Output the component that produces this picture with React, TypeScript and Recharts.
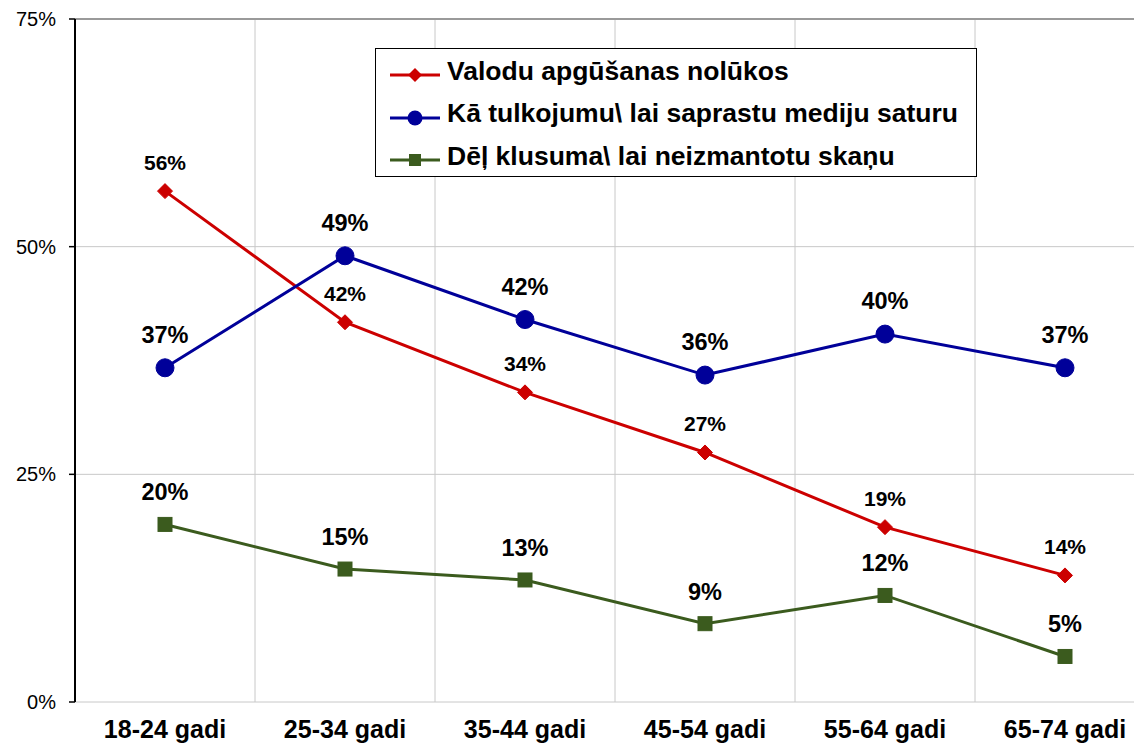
import React from 'react';
import { LineChart, Line, XAxis, YAxis, CartesianGrid, Legend, LabelList, ReferenceLine } from 'recharts';

const categories = ['18-24 gadi', '25-34 gadi', '35-44 gadi', '45-54 gadi', '55-64 gadi', '65-74 gadi'];
const valodu = [56.1, 41.7, 34.0, 27.4, 19.2, 13.9];
const tulkojumu = [36.7, 49.0, 42.0, 35.9, 40.4, 36.7];
const klusuma = [19.5, 14.6, 13.4, 8.6, 11.7, 5.0];
const yTicks = [0, 25, 50, 75];
const seriesNames = ['Valodu apgūšanas nolūkos', 'Kā tulkojumu\\ lai saprastu mediju saturu', 'Dēļ klusuma\\ lai neizmantotu skaņu'];

const RED = '#CC0000';
const BLUE = '#000099';
const GREEN = '#3B5B1E';
const FONT = '"Liberation Sans", Arial, sans-serif';

const data = categories.map((c, i) => ({
  x: i + 0.5,
  cat: c,
  valodu: valodu[i],
  tulkojumu: tulkojumu[i],
  klusuma: klusuma[i],
}));

const Diamond = (props: any) => {
  const { cx, cy } = props;
  if (cx == null || cy == null) return null;
  const r = 7.5;
  return <polygon points={`${cx},${cy - r} ${cx + r},${cy} ${cx},${cy + r} ${cx - r},${cy}`} fill={RED} stroke={RED} />;
};
const Circle = (props: any) => {
  const { cx, cy } = props;
  if (cx == null || cy == null) return null;
  return <circle cx={cx} cy={cy} r={9} fill={BLUE} stroke={BLUE} />;
};
const Square = (props: any) => {
  const { cx, cy } = props;
  if (cx == null || cy == null) return null;
  return <rect x={cx - 7} y={cy - 7} width={14} height={14} fill={GREEN} stroke={GREEN} />;
};

const makeLabel = (offset: number, size: number) => (props: any) => {
  const { x, y, value } = props;
  return (
    <text x={x} y={y - offset} textAnchor="middle" dominantBaseline="central" fontFamily={FONT} fontWeight="bold" fontSize={size} fill="#000">
      {Math.round(value)}%
    </text>
  );
};

const legendIcons = [
  (
    <svg width={50} height={20}>
      <line x1={0} y1={10} x2={50} y2={10} stroke={RED} strokeWidth={3} />
      <polygon points="25,3 32,10 25,17 18,10" fill={RED} />
    </svg>
  ),
  (
    <svg width={50} height={20}>
      <line x1={0} y1={10} x2={50} y2={10} stroke={BLUE} strokeWidth={3} />
      <circle cx={25} cy={10} r={7.5} fill={BLUE} />
    </svg>
  ),
  (
    <svg width={50} height={20}>
      <line x1={0} y1={10} x2={50} y2={10} stroke={GREEN} strokeWidth={3} />
      <rect x={19} y={4} width={12} height={12} fill={GREEN} />
    </svg>
  ),
];

const LegendBox = () => (
  <div
    style={{
      width: 600,
      height: 126,
      border: '1px solid #000',
      background: '#fff',
      boxSizing: 'content-box',
      fontFamily: FONT,
      fontWeight: 'bold',
      fontSize: 26.5,
      color: '#000',
      paddingTop: 1,
    }}
  >
    {seriesNames.map((n, i) => (
      <div key={n} style={{ height: 42.5, display: 'flex', alignItems: 'center', paddingLeft: 14 }}>
        <span style={{ display: 'inline-block', width: 50, height: 20, marginRight: 7 }}>{legendIcons[i]}</span>
        <span style={{ whiteSpace: 'nowrap' }}>{n}</span>
      </div>
    ))}
  </div>
);

export default function App() {
  return (
    <div style={{ position: 'absolute', left: 0, top: 0, width: 1134, height: 744, overflow: 'hidden', background: '#fff' }}>
      <LineChart width={1160} height={744} data={data} margin={{ top: 19, right: 5, left: 0, bottom: 0 }}>
        <CartesianGrid stroke="#C8C8C8" strokeWidth={1} />
        <ReferenceLine y={75} stroke="#9A9A9A" strokeWidth={2} />
        <XAxis
          dataKey="x"
          type="number"
          domain={[0, 6]}
          ticks={[0, 1, 2, 3, 4, 5, 6]}
          tickFormatter={() => ''}
          height={0}
          axisLine={{ stroke: '#000', strokeWidth: 2 }}
          tickLine={{ stroke: '#000', strokeWidth: 1.5 }}
          tickSize={6}
          allowDataOverflow
        />
        <XAxis
          xAxisId="lab"
          dataKey="x"
          type="number"
          domain={[0, 6]}
          ticks={[0.5, 1.5, 2.5, 3.5, 4.5, 5.5]}
          tickFormatter={(v: number) => categories[Math.floor(v)] ?? ''}
          height={42}
          axisLine={false}
          tickLine={false}
          tickSize={0}
          tickMargin={18}
          interval={0}
          tick={{ fontFamily: FONT, fontWeight: 'bold', fontSize: 25, fill: '#000' }}
          allowDataOverflow
        />
        <YAxis
          type="number"
          domain={[0, 75]}
          ticks={yTicks}
          width={75}
          tickFormatter={(v: number) => `${v}%`}
          axisLine={{ stroke: '#000', strokeWidth: 2 }}
          tickLine={{ stroke: '#000', strokeWidth: 1.5 }}
          tickSize={6}
          tickMargin={13}
          tick={{ fontFamily: FONT, fontSize: 20, fill: '#000' }}
          allowDataOverflow
        />
        <Legend layout="vertical" align="center" verticalAlign="middle" wrapperStyle={{ position: 'absolute', left: 375, top: 48, width: 602 }} content={() => <LegendBox />} />
        <Line dataKey="valodu" stroke={RED} strokeWidth={3} dot={<Diamond />} activeDot={false} isAnimationActive={false}>
          <LabelList dataKey="valodu" content={makeLabel(29, 21)} />
        </Line>
        <Line dataKey="tulkojumu" stroke={BLUE} strokeWidth={3} dot={<Circle />} activeDot={false} isAnimationActive={false}>
          <LabelList dataKey="tulkojumu" content={makeLabel(33, 23.5)} />
        </Line>
        <Line dataKey="klusuma" stroke={GREEN} strokeWidth={3} dot={<Square />} activeDot={false} isAnimationActive={false}>
          <LabelList dataKey="klusuma" content={makeLabel(32, 23.5)} />
        </Line>
      </LineChart>
    </div>
  );
}
